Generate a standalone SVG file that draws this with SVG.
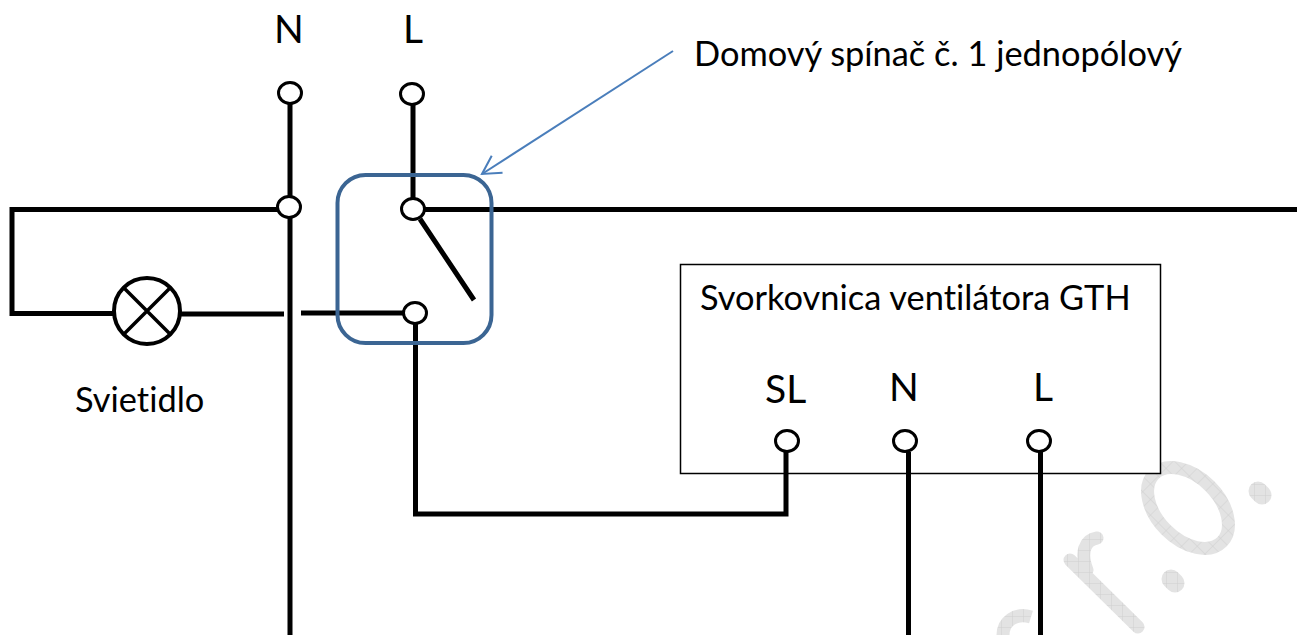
<svg xmlns="http://www.w3.org/2000/svg" width="1297" height="635" viewBox="0 0 1297 635">
<defs>
<pattern id="hatch" width="11" height="11" patternUnits="userSpaceOnUse"><rect width="11" height="11" fill="#e3e3e3"/><path d="M0 0H11M0 0V11" stroke="#cfcfcf" stroke-width="1"/></pattern>
<marker id="ah" markerWidth="24" markerHeight="26" refX="20" refY="12" orient="auto" markerUnits="userSpaceOnUse"><path d="M2 2L20 12L2 22" fill="none" stroke="#4a7ebb" stroke-width="2"/></marker>
</defs>
<style>
text{font-family:Lato,"Liberation Sans",sans-serif;fill:#000;font-variant-ligatures:none}
.w{fill:none;stroke:#000;stroke-width:5}
.t{fill:#fff;stroke:#000;stroke-width:3}
.big{font-size:39px}
.mid{font-size:34.400px}
</style>
<rect width="1297" height="635" fill="#fff"/>
<g id="watermark" fill="none" stroke="url(#hatch)">
<ellipse cx="1188" cy="508" rx="48" ry="31" transform="rotate(45 1188 508)" stroke-width="13"/>
<path d="M1070 560L1138 627M1087 570C1080 552 1085 540 1097 538" stroke-width="13" stroke-linecap="round"/>
<path d="M1258 491L1262 495M1171 579L1175 583" stroke-width="19" stroke-linecap="round"/>
<path d="M1031 617C1015 612 1003 622 1003 635" stroke-width="13"/>
</g>
<g id="fan-box"><rect x="680.500" y="264.500" width="480" height="209" fill="#fff" stroke="#000" stroke-width="1.500"/></g>
<g id="connectors">
<path class="w" d="M290 104V635M413 104V200M424 209.500H1297M280 209.500H12V313.500H114M181 314H284M301 313H404M420 219L474 300M415.500 324V514H786V451M908.500 452V635M1040.500 452V635"/>
<path d="M673 51L482 174" fill="none" stroke="#4a7ebb" stroke-width="2" marker-end="url(#ah)"/>
</g>
<g id="switch"><rect x="337.500" y="175" width="154" height="168" rx="28" fill="none" stroke="#3b6593" stroke-width="4"/></g>
<g id="terminal-n-top"><ellipse class="t" cx="290" cy="93" rx="11.500" ry="10.500"/></g>
<g id="terminal-l-top"><ellipse class="t" cx="412" cy="94" rx="11.500" ry="10.500"/></g>
<g id="terminal-n"><ellipse class="t" cx="289" cy="207" rx="11.500" ry="10.500"/></g>
<g id="terminal-l"><ellipse class="t" cx="413" cy="209" rx="11.500" ry="10.500"/></g>
<g id="terminal-switch"><ellipse class="t" cx="415" cy="313" rx="11.500" ry="10.500"/></g>
<g id="lamp"><circle cx="147" cy="311" r="33" fill="#fff" stroke="#000" stroke-width="4"/><path d="M123 287L171 335M171 287L123 335" stroke="#000" stroke-width="3.500" fill="none"/></g>
<g id="terminal-sl"><ellipse class="t" cx="787" cy="441" rx="11.500" ry="10.500"/></g>
<g id="terminal-fan-n"><ellipse class="t" cx="905" cy="441" rx="11.500" ry="10.500"/></g>
<g id="terminal-fan-l"><ellipse class="t" cx="1039" cy="441" rx="11.500" ry="10.500"/></g>
<g id="labels">
<text class="big" x="274" y="43">N</text>
<text class="big" x="403" y="43">L</text>
<text class="mid" x="694" y="66">Domový spínač č. 1 jednopólový</text>
<text class="mid" x="75" y="412">Svietidlo</text>
<text class="mid" x="700" y="310">Svorkovnica ventilátora GTH</text>
<text class="big" x="765" y="403">SL</text>
<text class="big" x="889" y="401">N</text>
<text class="big" x="1033" y="401">L</text>
</g>
</svg>
